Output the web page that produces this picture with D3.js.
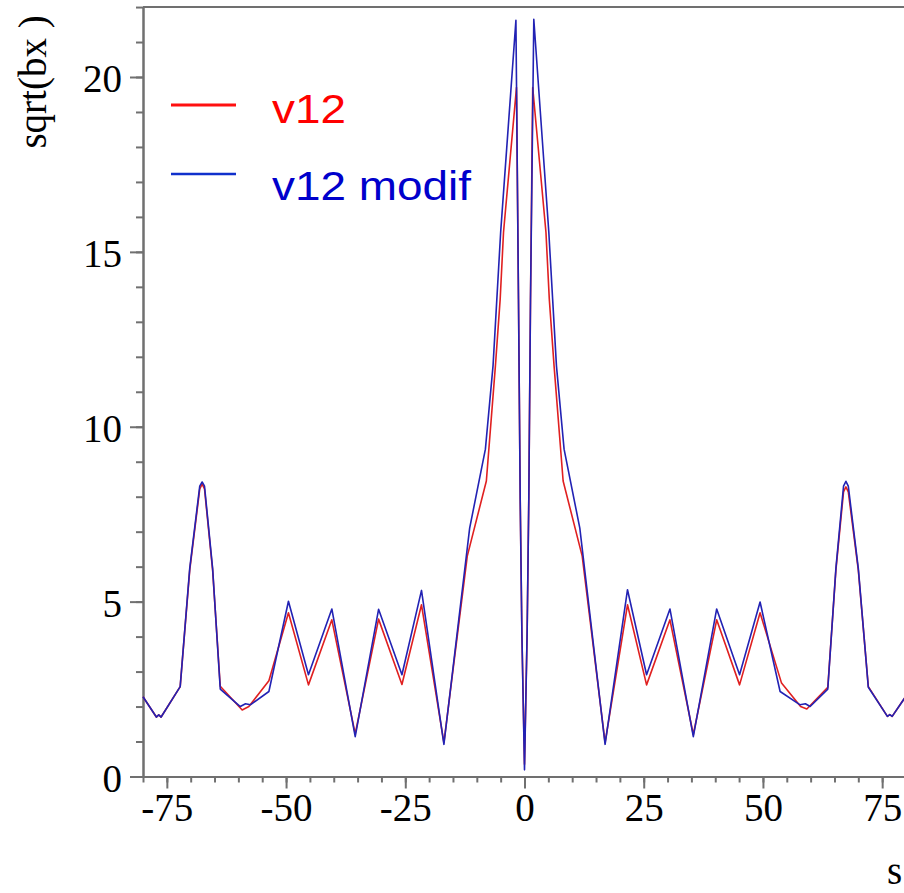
<!DOCTYPE html>
<html>
<head>
<meta charset="utf-8">
<script src="https://cdn.jsdelivr.net/npm/d3@7"></script>
<style>
  html, body { margin: 0; padding: 0; background: #fff; overflow: hidden; }
  svg { display: block; }
</style>
</head>
<body>
<svg id="chart" width="904" height="893"></svg>
<script>
// ---- data ----
const seriesNames = ["v12", "v12 modif"];

const sV12 = [-80, -77.2, -76.7, -76.2, -72.2, -70.2, -68.1, -67.6, -67.1, -65.4, -63.8,
  -59.2, -57.8, -53.6, -49.5, -45.3, -40.4, -35.5, -30.6, -25.7, -21.6, -16.9,
  -12.0, -8.0, -6.1, -5.1, -4.4, -1.68, -1.26, -0.9, -0.55, 0,
  0.55, 0.9, 1.26, 1.72, 4.5, 5.2, 6.2, 8.1, 12.1, 16.9, 21.6, 25.6, 30.5, 35.4,
  40.3, 45.1, 49.4, 53.9, 57.9, 59.2, 63.6, 65.3, 66.9, 67.4, 67.9, 70.0, 72.1,
  76.1, 76.6, 77.1, 80];
const v12 = [2.28, 1.70, 1.76, 1.70, 2.57, 5.9, 8.22, 8.36, 8.22, 5.9, 2.58,
  1.90, 2.00, 2.74, 4.68, 2.62, 4.48, 1.22, 4.50, 2.63, 4.91, 0.97,
  6.30, 8.45, 11.74, 13.65, 15.56, 19.7, 13.65, 7.92, 4.1, 0.35,
  4.1, 7.92, 13.65, 19.7, 15.56, 13.65, 11.74, 8.45, 6.30, 0.97, 4.91, 2.62, 4.48, 1.2,
  4.48, 2.62, 4.68, 2.67, 2.0, 1.93, 2.55, 5.9, 8.14, 8.28, 8.14, 5.9, 2.57,
  1.72, 1.77, 1.72, 2.30];

const sMod = [-80, -77.2, -76.7, -76.2, -72.2, -70.2, -68.1, -67.6, -67.1, -65.4, -63.8,
  -59.6, -58.5, -57.5, -53.6, -49.5, -45.3, -40.4, -35.5, -30.6, -25.7, -21.6, -16.9,
  -11.5, -8.2, -6.6, -5.8, -5.0, -1.8, -1.26, -0.9, -0.55, 0,
  0.55, 0.9, 1.26, 1.95, 5.1, 5.9, 6.7, 8.3, 11.6, 16.9, 21.6, 25.6, 30.5, 35.4,
  40.3, 45.1, 49.4, 53.6, 57.8, 58.9, 59.9, 63.6, 65.3, 66.9, 67.4, 67.9, 70.0, 72.1,
  76.1, 76.6, 77.1, 80];
const v12Mod = [2.28, 1.70, 1.76, 1.70, 2.57, 5.95, 8.3, 8.42, 8.3, 5.95, 2.50,
  2.00, 2.08, 2.05, 2.43, 5.01, 2.91, 4.79, 1.14, 4.78, 2.91, 5.32, 0.92,
  7.10, 9.36, 11.74, 13.65, 15.56, 21.62, 13.65, 7.92, 4.1, 0.19,
  4.1, 7.92, 13.65, 21.65, 15.56, 13.65, 11.74, 9.36, 7.1, 0.92, 5.34, 2.91, 4.79, 1.14,
  4.79, 2.91, 4.99, 2.43, 2.05, 2.08, 2.0, 2.50, 5.95, 8.3, 8.44, 8.3, 5.95, 2.55,
  1.72, 1.77, 1.72, 2.30];

const xMajorTicks = [-75, -50, -25, 0, 25, 50, 75];
const yMajorTicks = [0, 5, 10, 15, 20];
const xLabel = "s";
const yLabel = "sqrt(bx )";

// ---- drawing ----
const svg = d3.select("#chart");
const axisColor = "#707070";
const serif = "'Liberation Serif', 'Times New Roman', serif";
const sans = "'Liberation Sans', Arial, Helvetica, sans-serif";

const x = d3.scaleLinear().domain([-80, 80]).range([143, 906]);
const y = d3.scaleLinear().domain([0, 22]).range([776.5, 7.05]);
const plainFmt = d => String(d);

// top frame line
svg.append("line")
  .attr("x1", x(-80)).attr("x2", x(80))
  .attr("y1", y(22)).attr("y2", y(22))
  .attr("stroke", axisColor).attr("stroke-width", 2);

// y axis minor
svg.append("g").attr("transform", `translate(${x(-80)},0)`)
  .call(d3.axisLeft(y).tickValues(d3.range(0, 23)).tickSize(7).tickSizeOuter(0).tickFormat(""));
// y axis major
const yMajor = svg.append("g").attr("transform", `translate(${x(-80)},0)`)
  .call(d3.axisLeft(y).tickValues(yMajorTicks).tickSize(13).tickSizeOuter(0).tickPadding(8).tickFormat(plainFmt));
yMajor.selectAll("text").attr("dy", "0.38em");

// x axis minor
svg.append("g").attr("transform", `translate(0,${y(0)})`)
  .call(d3.axisBottom(x).tickValues(d3.range(-80, 81, 5)).tickSize(6).tickSizeOuter(0).tickFormat(""));
// x axis major
svg.append("g").attr("transform", `translate(0,${y(0)})`)
  .call(d3.axisBottom(x).tickValues(xMajorTicks).tickSize(12).tickSizeOuter(0).tickPadding(5).tickFormat(plainFmt));

svg.selectAll(".domain").attr("stroke", axisColor).attr("stroke-width", 2);
svg.selectAll(".tick line").attr("stroke", axisColor).attr("stroke-width", 2);
svg.selectAll(".tick text")
  .attr("fill", "#000")
  .style("font-family", serif)
  .style("font-size", "39px");

// axis titles
svg.append("text")
  .attr("transform", `translate(46,82) rotate(-90)`)
  .attr("text-anchor", "middle")
  .style("font-family", serif)
  .style("font-size", "39px")
  .attr("fill", "#000")
  .text(yLabel);

svg.append("text")
  .attr("x", 887).attr("y", 884)
  .style("font-family", serif)
  .style("font-size", "39px")
  .attr("fill", "#000")
  .text(xLabel);

// curves
const line = d3.line().x(d => x(d[0])).y(d => y(d[1]));
const redData = sV12.map((s, i) => [s, v12[i]]);
const blueData = sMod.map((s, i) => [s, v12Mod[i]]);

svg.append("path").datum(redData)
  .attr("d", line).attr("fill", "none")
  .attr("stroke", "#e02020").attr("stroke-width", 1.6).attr("stroke-linejoin", "round");
svg.append("path").datum(blueData)
  .attr("d", line).attr("fill", "none")
  .attr("stroke", "#2222b4").attr("stroke-width", 1.6).attr("stroke-linejoin", "round");

// legend
const legendColors = ["#ff0000", "#0000cc"];
const legendLine = ["#ff1010", "#1030cc"];
const legendY = [105, 174];
const legendBase = [123, 200];
seriesNames.forEach((name, i) => {
  svg.append("line")
    .attr("x1", 171).attr("x2", 236)
    .attr("y1", legendY[i]).attr("y2", legendY[i])
    .attr("stroke", legendLine[i]).attr("stroke-width", i === 0 ? 3 : 2.5);
  svg.append("text")
    .attr("transform", `translate(272,${legendBase[i]}) scale(1.12,1)`)
    .style("font-family", sans)
    .style("font-size", "41px")
    .attr("fill", legendColors[i])
    .text(name);
});
</script>
</body>
</html>
